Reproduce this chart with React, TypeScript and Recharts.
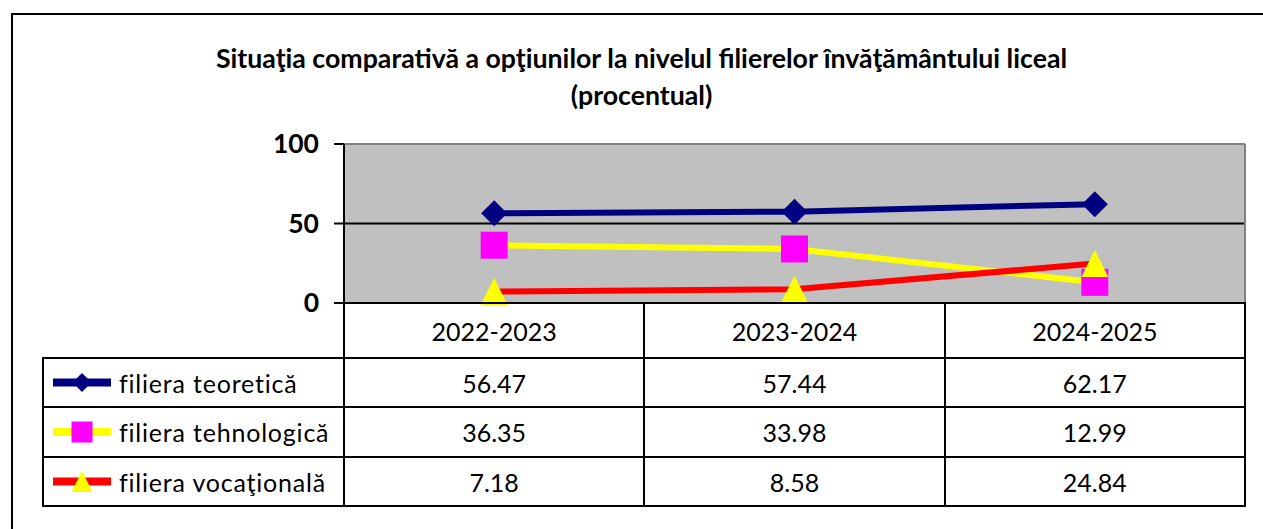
import React from 'react';
import { LineChart, Line, XAxis, YAxis, CartesianGrid } from 'recharts';

const categories = ['2022-2023', '2023-2024', '2024-2025'];
const teoretica = [56.47, 57.44, 62.17];
const tehnologica = [36.35, 33.98, 12.99];
const vocationala = [7.18, 8.58, 24.84];
const seriesNames = ['filiera teoretică', 'filiera tehnologică', 'filiera vocaţională'];
const yTicks = [0, 50, 100];
const titleLines = [
  'Situaţia comparativă a opţiunilor la nivelul filierelor învăţământului liceal',
  '(procentual)',
];

const data = categories.map((c, i) => ({
  cat: c,
  teo: teoretica[i],
  teh: tehnologica[i],
  voc: vocationala[i],
}));

const seriesValues = [teoretica, tehnologica, vocationala];
const lineColors = ['#000080', '#FFFF00', '#FF0000'];

const FONT = 'Lato, "Open Sans", sans-serif';

const Diamond = ({ cx, cy, r }: any) => (
  <polygon points={`${cx},${cy - r} ${cx + r},${cy} ${cx},${cy + r} ${cx - r},${cy}`} fill="#000080" />
);
const Square = ({ cx, cy, r }: any) => (
  <rect x={cx - r} y={cy - r} width={2 * r} height={2 * r} fill="#FF00FF" />
);
const Triangle = ({ cx, cy, r }: any) => (
  <polygon points={`${cx},${cy - r} ${cx + r},${cy + r} ${cx - r},${cy + r}`} fill="#FFFF00" />
);
const markers = [Diamond, Square, Triangle];

// layout constants (page coordinates)
const W = 1263;
const H = 529;
const PLOT_L = 344;
const PLOT_R = 1245;
const PLOT_T = 144;
const PLOT_B = 303;
const COL_W = (PLOT_R - PLOT_L) / 3;
const LEG_L = 43;
const ROW_Y = [303, 358, 407, 457, 506];
const BORDER = '2px solid #000';
const YAXIS_W = 60;

export default function App() {
  return (
    <div
      style={{
        position: 'fixed',
        left: 0,
        top: 0,
        width: W,
        height: H,
        overflow: 'hidden',
        fontFamily: FONT,
        background: '#fff',
      }}
    >
      <style>{'html,body{overflow:hidden;}'}</style>
      <div
        style={{
          position: 'absolute',
          left: 11,
          top: 13,
          width: W - 11,
          height: H - 13,
          borderTop: BORDER,
          borderLeft: BORDER,
          boxSizing: 'border-box',
        }}
      />
      {titleLines.map((t, i) => (
        <div
          key={i}
          style={{
            position: 'absolute',
            left: 0,
            width: 1283,
            top: 43 + i * 37,
            textAlign: 'center',
            fontWeight: 700,
            fontSize: 26.7,
            lineHeight: '30px',
            color: '#000',
            whiteSpace: 'nowrap',
          }}
        >
          {t}
        </div>
      ))}
      <div style={{ position: 'absolute', left: 0, top: 0 }}>
        <LineChart
          width={W}
          height={H}
          data={data}
          margin={{ top: PLOT_T, right: W - PLOT_R, left: PLOT_L - YAXIS_W, bottom: H - PLOT_B }}
        >
          <CartesianGrid fill="#C0C0C0" vertical={false} stroke="#000" strokeWidth={2} />
          <CartesianGrid
            horizontal={false}
            vertical
            stroke="#808080"
            strokeWidth={2}
            verticalCoordinatesGenerator={(p: any) => [p.offset.left + p.offset.width]}
          />
          <CartesianGrid
            vertical={false}
            horizontal
            stroke="#808080"
            strokeWidth={2}
            horizontalCoordinatesGenerator={(p: any) => [p.offset.top]}
          />
          <XAxis dataKey="cat" hide padding={{ left: COL_W / 2, right: COL_W / 2 }} />
          <YAxis
            width={YAXIS_W}
            domain={[0, 100]}
            ticks={yTicks}
            interval={0}
            tickSize={10}
            tickMargin={15}
            axisLine={{ stroke: '#000', strokeWidth: 2 }}
            tickLine={{ stroke: '#000', strokeWidth: 2 }}
            tick={{ fill: '#000', fontSize: 26.5, fontWeight: 700, fontFamily: FONT }}
          />
          {(['teo', 'teh', 'voc'] as const).map((k, si) => {
            const M = markers[si];
            return (
              <Line
                key={k}
                dataKey={k}
                stroke={lineColors[si]}
                strokeWidth={6}
                isAnimationActive={false}
                dot={(p: any) => <M key={`${k}-${p.index}`} cx={p.cx} cy={p.cy} r={si === 0 ? 13 : 13.5} />}
                activeDot={false}
              />
            );
          })}
        </LineChart>
      </div>
      {/* data table */}
      {categories.map((c, ci) => (
        <div
          key={c}
          style={{
            position: 'absolute',
            left: PLOT_L + ci * COL_W - 1,
            top: ROW_Y[0] - 1,
            width: COL_W + 2,
            height: ROW_Y[1] - ROW_Y[0] + 2,
            border: BORDER,
            boxSizing: 'border-box',
            display: 'flex',
            alignItems: 'center',
            justifyContent: 'center',
            fontSize: 25,
            color: '#000',
          }}
        >
          {c}
        </div>
      ))}
      {seriesNames.map((name, ri) => {
        const M = markers[ri];
        const top = ROW_Y[ri + 1];
        const h = ROW_Y[ri + 2] - top;
        return (
          <React.Fragment key={name}>
            <div
              style={{
                position: 'absolute',
                left: LEG_L - 1,
                top: top - 1,
                width: PLOT_L - LEG_L + 2,
                height: h + 2,
                border: BORDER,
                boxSizing: 'border-box',
                display: 'flex',
                alignItems: 'center',
                fontSize: 25,
                color: '#000',
              }}
            >
              <svg width={68} height={h} style={{ marginLeft: 7, flex: 'none' }}>
                <line x1={2} x2={60} y1={h / 2} y2={h / 2} stroke={lineColors[ri]} strokeWidth={8} />
                <M cx={31} cy={h / 2} r={ri === 0 ? 9.5 : 10.5} />
              </svg>
              <span style={{ letterSpacing: '0.8px' }}>{name}</span>
            </div>
            {categories.map((c, ci) => (
              <div
                key={c}
                style={{
                  position: 'absolute',
                  left: PLOT_L + ci * COL_W - 1,
                  top: top - 1,
                  width: COL_W + 2,
                  height: h + 2,
                  border: BORDER,
                  boxSizing: 'border-box',
                  display: 'flex',
                  alignItems: 'center',
                  justifyContent: 'center',
                  fontSize: 25,
                  color: '#000',
                }}
              >
                {seriesValues[ri][ci].toFixed(2)}
              </div>
            ))}
          </React.Fragment>
        );
      })}
    </div>
  );
}
